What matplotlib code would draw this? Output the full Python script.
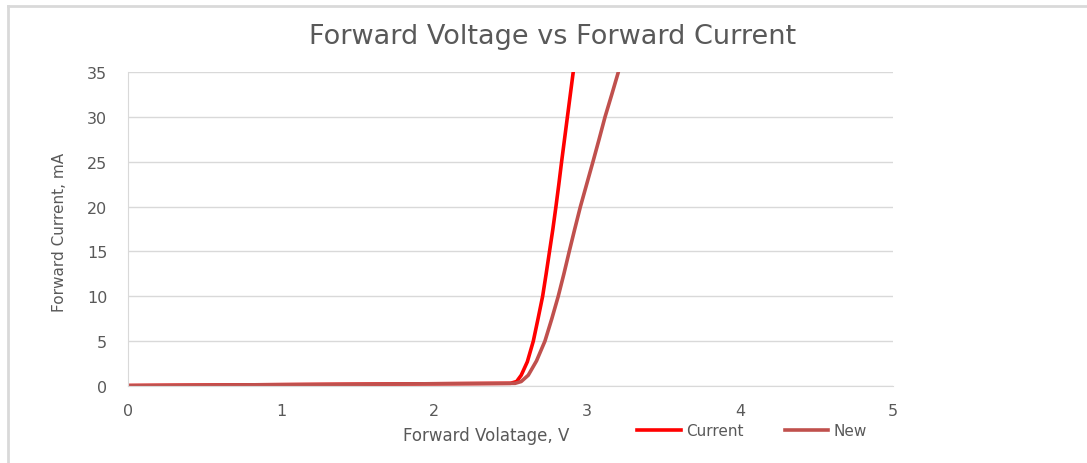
import matplotlib.pyplot as plt
from matplotlib.lines import Line2D

# Forward voltage (V) and forward current (mA)
current_v = [0, 0.5, 1.0, 1.5, 2.0, 2.50, 2.54, 2.57, 2.61, 2.649, 2.68, 2.71, 2.733, 2.755, 2.777, 2.797, 2.816, 2.834, 2.853, 2.872, 2.891, 2.91]
current_ma = [0.05, 0.1, 0.15, 0.2, 0.25, 0.3, 0.5, 1.2, 2.7, 5.0, 7.5, 10.0, 12.5, 15.0, 17.5, 20.0, 22.5, 25.0, 27.5, 30.0, 32.5, 35.0]

new_v = [0, 0.5, 1.0, 1.5, 2.0, 2.53, 2.57, 2.616, 2.67, 2.725, 2.77, 2.812, 2.849, 2.884, 2.92, 2.957, 2.998, 3.039, 3.079, 3.118, 3.162, 3.205]
new_ma = [0.05, 0.1, 0.15, 0.2, 0.25, 0.3, 0.5, 1.2, 2.8, 5.0, 7.5, 10.0, 12.5, 15.0, 17.5, 20.0, 22.5, 25.0, 27.5, 30.0, 32.5, 35.0]

x_ticks = [0, 1, 2, 3, 4, 5]
y_ticks = [0, 5, 10, 15, 20, 25, 30, 35]

text_color = "#595959"
grid_color = "#D9D9D9"

fig = plt.figure(figsize=(10.87, 4.64), dpi=100)
ax = fig.add_axes([128 / 1087, 1 - 387 / 464, (893 - 128) / 1087, (387 - 73) / 464])

ax.plot(current_v, current_ma, color="#FF0000", lw=2.6, solid_capstyle="round", solid_joinstyle="round")
ax.plot(new_v, new_ma, color="#C0504D", lw=2.6, solid_capstyle="round", solid_joinstyle="round")

ax.set_xlim(0, 5)
ax.set_ylim(0, 35)
ax.set_xticks(x_ticks)
ax.set_yticks(y_ticks)
ax.grid(axis="y", color=grid_color, lw=1)
ax.set_axisbelow(True)
for side in ["top", "right"]:
    ax.spines[side].set_visible(False)
ax.spines["left"].set_color(grid_color)
ax.spines["bottom"].set_color(grid_color)
ax.tick_params(length=0, labelsize=11.5, colors=text_color)
ax.tick_params(axis="x", pad=12)
ax.tick_params(axis="y", pad=15)

fig.text(553 / 1087, 1 - 37 / 464, "Forward Voltage vs Forward Current", ha="center", va="center",
         fontsize=19.5, color=text_color)
fig.text(486 / 1087, 1 - 436 / 464, "Forward Volatage, V", ha="center", va="center",
         fontsize=12, color=text_color)
fig.text(60 / 1087, 1 - 232 / 464, "Forward Current, mA", ha="center", va="center", rotation=90,
         fontsize=11, color=text_color)

handles = [Line2D([], [], color="#FF0000", lw=2.6), Line2D([], [], color="#C0504D", lw=2.6)]
fig.legend(handles, ["Current", "New"], loc="center", bbox_to_anchor=(752 / 1087, 1 - 432 / 464),
           ncol=2, frameon=False, fontsize=11, labelcolor=text_color, handlelength=2.85,
           handletextpad=0.33, columnspacing=2.7)

# outer chart border
fig.add_artist(Line2D([8 / 1087, 1], [1 - 7 / 464, 1 - 7 / 464], color="#D9D9D9", lw=2))
fig.add_artist(Line2D([8 / 1087, 8 / 1087], [0, 1 - 7 / 464], color="#D9D9D9", lw=2))

fig.savefig("out.png", dpi=100)
